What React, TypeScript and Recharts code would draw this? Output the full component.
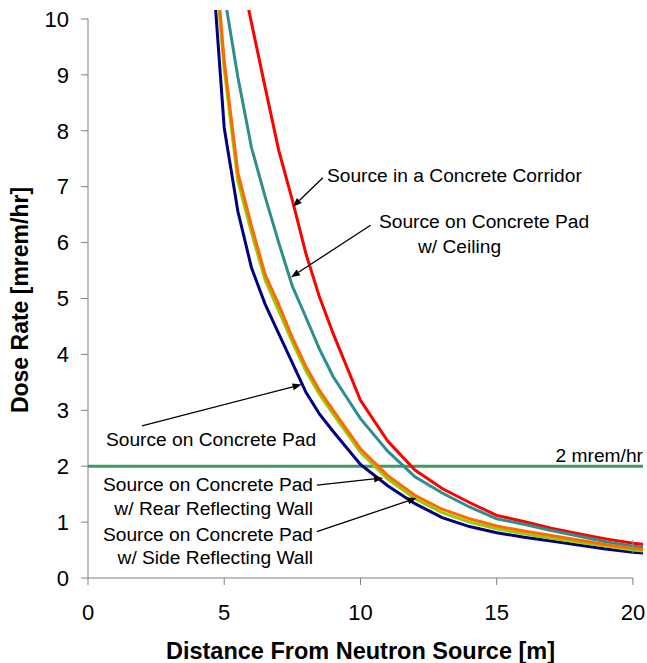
import React from 'react';
import { LineChart, Line, XAxis, YAxis, ReferenceLine, ReferenceDot } from 'recharts';

const FONT = '"Liberation Sans", Arial, sans-serif';
const AXIS = '#808080';

// distance from source [m]
const distance = [4.5, 5, 5.5, 6, 6.5, 7, 7.5, 8, 8.5, 9, 10, 11, 12, 13, 14, 15, 16, 17, 18, 19, 20, 20.5];

// dose rate [mrem/hr]
const corridorRates = [13.3, 12.1, 11.1, 9.93, 8.78, 7.65, 6.76, 5.8, 5.02, 4.37, 3.18, 2.45, 1.93, 1.6, 1.35, 1.12, 1.01, 0.89, 0.79, 0.7, 0.62, 0.6];
const ceilingRates = [11.9, 10.44, 8.96, 7.7, 6.82, 6.0, 5.22, 4.66, 4.09, 3.6, 2.85, 2.27, 1.81, 1.52, 1.27, 1.06, 0.96, 0.85, 0.75, 0.65, 0.57, 0.55];
const rearWallRates = [12.1, 9.25, 7.25, 6.3, 5.43, 4.89, 4.3, 3.78, 3.35, 3.0, 2.31, 1.83, 1.48, 1.23, 1.06, 0.93, 0.84, 0.76, 0.68, 0.6, 0.53, 0.51];
const sideWallRates = [11.9, 9.1, 7.1, 6.18, 5.33, 4.78, 4.22, 3.7, 3.28, 2.93, 2.25, 1.77, 1.42, 1.17, 1.0, 0.88, 0.79, 0.71, 0.64, 0.57, 0.5, 0.48];
const padRates = [11.4, 8.05, 6.56, 5.55, 4.9, 4.37, 3.85, 3.32, 2.93, 2.62, 2.03, 1.65, 1.33, 1.08, 0.92, 0.81, 0.73, 0.66, 0.59, 0.52, 0.46, 0.44];

const xTicks = [0, 5, 10, 15, 20];
const yTicks = [0, 1, 2, 3, 4, 5, 6, 7, 8, 9, 10];
const limit = 2;

const toPoints = (rates: number[]) => distance.map((x, i) => ({ x, y: rates[i] }));

const series = [
  { name: 'corridor', data: toPoints(corridorRates), color: '#FF0000' },
  { name: 'ceiling', data: toPoints(ceilingRates), color: '#2E8E8E' },
  { name: 'pad', data: toPoints(padRates), color: '#000080' },
  { name: 'side', data: toPoints(sideWallRates), color: '#99CC00' },
  { name: 'rear', data: toPoints(rearWallRates), color: '#FF6A00' },
];

// annotation text, in data units
const notes = [
  { x: 8.77, y: 7.08, text: 'Source in a Concrete Corridor', anchor: 'start' },
  { x: 10.68, y: 6.26, text: 'Source on Concrete Pad', anchor: 'start' },
  { x: 12.11, y: 5.81, text: 'w/ Ceiling', anchor: 'start' },
  { x: 0.66, y: 2.36, text: 'Source on Concrete Pad', anchor: 'start' },
  { x: 8.26, y: 1.56, text: 'Source on Concrete Pad', anchor: 'end' },
  { x: 8.26, y: 1.13, text: 'w/ Rear Reflecting Wall', anchor: 'end' },
  { x: 8.26, y: 0.66, text: 'Source on Concrete Pad', anchor: 'end' },
  { x: 8.26, y: 0.25, text: 'w/ Side Reflecting Wall', anchor: 'end' },
  { x: 20.37, y: 2.08, text: '2 mrem/hr', anchor: 'end' },
];

const arrows = [
  [{ x: 8.62, y: 7.16 }, { x: 7.52, y: 6.64 }],
  [{ x: 10.37, y: 6.31 }, { x: 7.45, y: 5.38 }],
  [{ x: 1.98, y: 2.72 }, { x: 7.84, y: 3.46 }],
  [{ x: 8.4, y: 1.66 }, { x: 10.83, y: 1.79 }],
  [{ x: 8.4, y: 0.83 }, { x: 12.06, y: 1.43 }],
];

const arrowShape = (p: any) => {
  const { x1, y1, x2, y2 } = p;
  const a = Math.atan2(y2 - y1, x2 - x1);
  const len = 9, w = 3.5;
  const bx = x2 - len * Math.cos(a);
  const by = y2 - len * Math.sin(a);
  const nx = -Math.sin(a) * w, ny = Math.cos(a) * w;
  return (
    <g>
      <line x1={x1} y1={y1} x2={bx} y2={by} stroke="#000" strokeWidth={1.3} />
      <polygon points={`${x2},${y2} ${bx + nx},${by + ny} ${bx - nx},${by - ny}`} fill="#000" />
    </g>
  );
};

const noteShape = (text: string, anchor: string) => (p: any) => (
  <text x={p.cx} y={p.cy} textAnchor={anchor} fontSize={19.2} fontFamily={FONT} fill="#000">
    {text}
  </text>
);

const xTitle = (p: any) => {
  const vb = p.viewBox;
  return (
    <text x={vb.x + vb.width / 2 - 5} y={vb.y + vb.height - 4} textAnchor="middle"
      fontSize={23.5} fontWeight="bold" fontFamily={FONT} fill="#000">
      Distance From Neutron Source [m]
    </text>
  );
};

const yTitle = (p: any) => {
  const vb = p.viewBox;
  const cx = vb.x + 28;
  const cy = vb.y + vb.height / 2 + 6;
  return (
    <text x={cx} y={cy} transform={`rotate(-90 ${cx} ${cy})`} textAnchor="middle"
      fontSize={23} fontWeight="bold" fontFamily={FONT} fill="#000">
      Dose Rate [mrem/hr]
    </text>
  );
};

export default function App() {
  return (
    <div style={{ position: 'absolute', left: 0, top: 0, width: 647, height: 663, background: '#fff', fontFamily: FONT }}>
      <LineChart width={647} height={663} margin={{ top: 10, right: 4, bottom: 0, left: 0 }}>
        <XAxis type="number" dataKey="x" domain={[0, 20.37]} allowDataOverflow ticks={xTicks}
          height={85} tickSize={7} tickMargin={19} axisLine={false}
          tickLine={{ stroke: AXIS }} tick={{ fill: '#000', fontSize: 22, fontFamily: FONT }} label={xTitle} />
        <YAxis type="number" dataKey="y" domain={[0, 10.16]} allowDataOverflow ticks={yTicks}
          width={88} tickSize={7} tickMargin={12} axisLine={false}
          tickLine={{ stroke: AXIS }} tick={{ fill: '#000', fontSize: 22, fontFamily: FONT }} label={yTitle} />
        <ReferenceLine segment={[{ x: 0, y: 0 }, { x: 20, y: 0 }]} stroke={AXIS} strokeWidth={1} ifOverflow="visible" />
        <ReferenceLine segment={[{ x: 0, y: 0 }, { x: 0, y: 10 }]} stroke={AXIS} strokeWidth={1} ifOverflow="visible" />
        <ReferenceLine y={limit} stroke="#3E9A64" strokeWidth={3} />
        {series.map((s) => (
          <Line key={s.name} data={s.data} dataKey="y" type="linear" stroke={s.color} strokeWidth={3}
            dot={false} activeDot={false} isAnimationActive={false} />
        ))}
        <ReferenceLine segment={[{ x: 20, y: 0.45 }, { x: 20, y: 0.68 }]} stroke="#5FA8A8" strokeWidth={1} ifOverflow="visible" />
        {arrows.map((a, i) => (
          <ReferenceLine key={'a' + i} segment={a} ifOverflow="visible" shape={arrowShape} />
        ))}
        {notes.map((n, i) => (
          <ReferenceDot key={'n' + i} x={n.x} y={n.y} r={0} ifOverflow="visible" shape={noteShape(n.text, n.anchor)} />
        ))}
      </LineChart>
    </div>
  );
}
